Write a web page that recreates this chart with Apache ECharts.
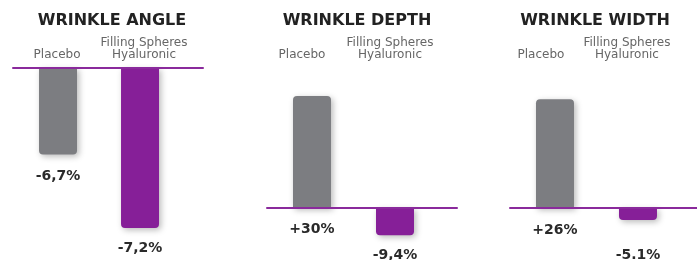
<!DOCTYPE html>
<html>
<head>
<meta charset="utf-8">
<style>
  html, body { margin: 0; padding: 0; background: #ffffff; }
  #chart { width: 697px; height: 260px; }
</style>
<script src="https://cdn.jsdelivr.net/npm/echarts@6/dist/echarts.min.js"></script>
</head>
<body>
<div id="chart"></div>
<script>
// ---- data ----
const panelTitles = ['WRINKLE ANGLE', 'WRINKLE DEPTH', 'WRINKLE WIDTH'];
const categories = ['Placebo', 'Filling Spheres\nHyaluronic'];
// bar lengths as drawn in the picture (relative scale, tallest bar = 100)
const angleBars = [-54, -100];
const depthBars = [70, -17];
const widthBars = [68, -7.5];
// printed values
const angleLabels = ['-6,7%', '-7,2%'];
const depthLabels = ['+30%', '-9,4%'];
const widthLabels = ['+26%', '-5.1%'];

// ---- layout / style ----
const GRAY = '#7c7d81';
const PURPLE = '#861f98';
const LINE = '#8a2a9c';
const barSets = [angleBars, depthBars, widthBars];
const labelSets = [angleLabels, depthLabels, widthLabels];
const grids = [
  { left: 13, width: 190, top: 68, height: 172 },
  { left: 267, width: 190, top: 68, height: 172 },
  { left: 510, width: 187, top: 68, height: 172 }
];
const xRanges = [[-0.549, 1.768], [-0.542, 1.747], [-0.542, 1.711]];
const yRanges = [[-107.5, 0], [-20, 87.5], [-20, 87.5]];
const titleCenters = [107, 352, 590];
// where the category captions sit on each panel's x scale (slightly left of the bars)
const catPos = [[-0.012, 1.049], [-0.12, 0.94], [-0.169, 0.867]];
const labelDist = [[15, 13.5], [14.5, 13.5], [15.5, 28.5]];

const option = {
  animation: false,
  title: panelTitles.map((t, i) => ({
    text: t,
    left: titleCenters[i],
    textAlign: 'center',
    top: 8,
    textStyle: { fontFamily: 'DejaVu Sans', fontWeight: 'bold', fontSize: 16, lineHeight: 16, color: '#222222' }
  })),
  grid: grids,
  xAxis: [],
  yAxis: [],
  series: []
};

grids.forEach((g, i) => {
  // baseline axis
  option.xAxis.push({
    type: 'value', gridIndex: i, min: xRanges[i][0], max: xRanges[i][1], z: 3,
    axisLine: { show: true, onZero: true, lineStyle: { color: LINE, width: 2 } },
    axisTick: { show: false }, axisLabel: { show: false }, splitLine: { show: false }
  });
  // category caption axis (top)
  option.xAxis.push({
    type: 'value', gridIndex: i, position: 'top', min: xRanges[i][0], max: xRanges[i][1],
    axisLine: { show: false, onZero: false }, axisTick: { show: false }, splitLine: { show: false },
    axisLabel: {
      show: true, customValues: catPos[i], margin: 7, hideOverlap: false,
      showMinLabel: true, showMaxLabel: true,
      formatter: function (v) {
        const k = v < 0.5 ? 0 : 1;
        return categories[k];
      },
      fontFamily: 'DejaVu Sans', fontSize: 12, lineHeight: 12, color: '#666666'
    }
  });
  option.yAxis.push({
    type: 'value', gridIndex: i, min: yRanges[i][0], max: yRanges[i][1],
    show: false, splitLine: { show: false }
  });
  option.series.push({
    type: 'bar', xAxisIndex: 2 * i, yAxisIndex: i, barWidth: 38, clip: false,
    data: barSets[i].map((v, k) => ({
      value: [k, v],
      itemStyle: {
        color: k === 0 ? GRAY : PURPLE,
        borderRadius: v >= 0 ? [4, 4, 0, 0] : [0, 0, 4, 4],
        shadowBlur: 6, shadowColor: 'rgba(0,0,0,0.28)', shadowOffsetX: 2, shadowOffsetY: 2
      },
      label: {
        show: true, position: 'bottom', distance: labelDist[i][k],
        formatter: labelSets[i][k],
        fontFamily: 'DejaVu Sans', fontWeight: 'bold', fontSize: 14, color: '#2a2a2a'
      }
    }))
  });
});

const chart = echarts.init(document.getElementById('chart'), null, { renderer: 'canvas' });
chart.setOption(option);
</script>
</body>
</html>
